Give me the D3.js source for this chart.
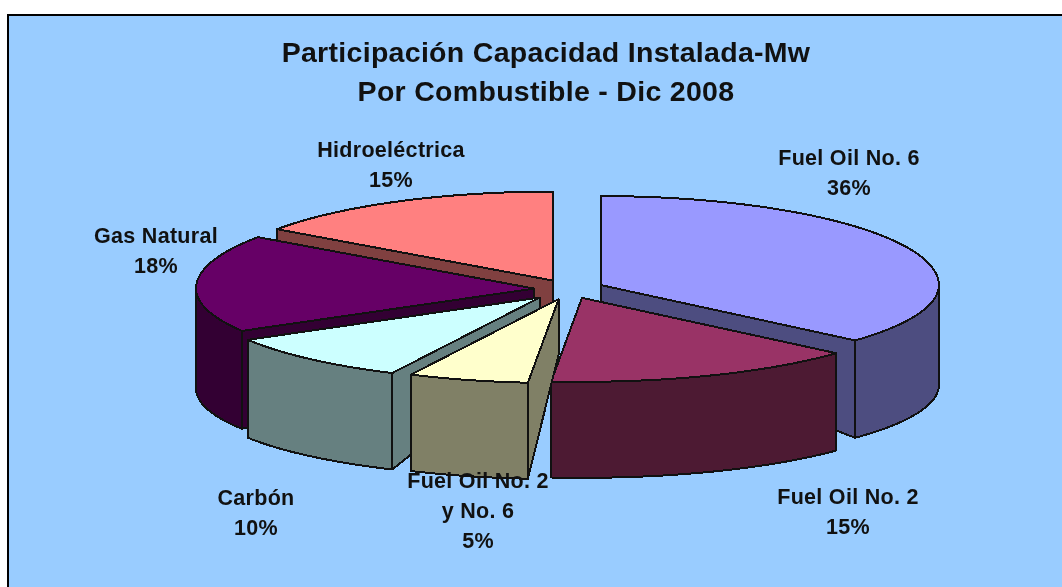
<!DOCTYPE html>
<html>
<head>
<meta charset="utf-8">
<script src="https://cdnjs.cloudflare.com/ajax/libs/d3/7.8.5/d3.min.js"></script>
<style>
    html, body { margin: 0; padding: 0; background: #fff; }
    svg { display: block; filter: blur(0.45px); }
    text { font-family: "Liberation Sans", Arial, sans-serif; font-weight: bold; fill: #111; }
    .slice path { shape-rendering: crispEdges; }
</style>
</head>
<body>
<div id="chart"></div>
<script>
const titleLines = ["Participación Capacidad Instalada-Mw", "Por Combustible - Dic 2008"]
const categories = ["Fuel Oil No. 6", "Fuel Oil No. 2", "Fuel Oil No. 2\ny No. 6", "Carbón", "Gas Natural", "Hidroeléctrica"]
const percentLabels = ["36%", "15%", "5%", "10%", "18%", "15%"]
const shares = [36.45, 15.0, 5.75, 9.4, 18.2, 15.2]
const explosion = [1, 1, 1.1, 1.22, 1, 1]
const topColors = ["#9999ff", "#993366", "#ffffcc", "#ccffff", "#660066", "#ff8080"]
const sideColors = ["#4d4d80", "#4d1a33", "#808066", "#668080", "#330033", "#804040"]

// painter's order, back slices first
const drawOrder = [5, 4, 3, 0, 1, 2]

// label centres, same order as categories
const labelX = [849, 848, 478, 256, 156, 391]
const labelY = [158, 497, 481, 498, 236, 150]

const width = 1062
const height = 587
const TAU = 2 * Math.PI

const cx = 569, cy = 289
const rx = 338
const backRy = 89, frontRy = 84
const bottomRy = 80
const wallDepth = 100
const apexDepth = 55
const explodeX = 35, explodeY = 9.5

const svg = d3.select("#chart").append("svg")
    .attr("width", width)
    .attr("height", height)

svg.append("rect")
    .attr("x", 8)
    .attr("y", 15)
    .attr("width", width + 10)
    .attr("height", height + 10)
    .attr("fill", "#99ccff")
    .attr("stroke", "#000")
    .attr("stroke-width", 2)

const slices = d3.pie().sort(null).value(function (d) { return d })(shares)

const xUnit = d3.scaleLinear().domain([-1, 1]).range([-rx, rx])
const yUnit = d3.scaleLinear().domain([-1, 0, 1]).range([frontRy, 0, -backRy])
const yUnitBottom = d3.scaleLinear().domain([-1, 1]).range([bottomRy, -bottomRy])
const line = d3.line()

function sliceOrigin(s, i) {
    const mid = (s.startAngle + s.endAngle) / 2
    return [cx + explosion[i] * explodeX * Math.sin(mid), cy - explosion[i] * explodeY * Math.cos(mid)]
}

function rimPoint(o, a) {
    return [o[0] + xUnit(Math.sin(a)), o[1] + yUnit(Math.cos(a))]
}

function rimBottomPoint(o, a) {
    return [o[0] + xUnit(Math.sin(a)), o[1] + wallDepth + yUnitBottom(Math.cos(a))]
}

function angleSteps(a0, a1) {
    const n = Math.max(2, Math.ceil((a1 - a0) * 60))
    return d3.range(n + 1).map(function (i) { return a0 + (a1 - a0) * i / n })
}

function drawPoly(g, points, fill) {
    g.append("path")
        .attr("d", line(points) + "Z")
        .attr("fill", fill)
        .attr("stroke", "#111")
        .attr("stroke-width", 2)
        .attr("stroke-linejoin", "round")
}

function cutFace(g, o, a, fill) {
    drawPoly(g, [o, rimPoint(o, a), rimBottomPoint(o, a), [o[0], o[1] + apexDepth]], fill)
}

drawOrder.forEach(function (i) {
    const s = slices[i]
    const o = sliceOrigin(s, i)
    const g = svg.append("g").attr("class", "slice")

    // a cut face shows when its normal turns towards the viewer
    if (Math.sin(s.startAngle) < 0) cutFace(g, o, s.startAngle, sideColors[i])
    if (Math.sin(s.endAngle) > 0) cutFace(g, o, s.endAngle, sideColors[i])

    // outer wall, only the part that faces front
    const w0 = Math.max(s.startAngle, TAU / 4)
    const w1 = Math.min(s.endAngle, 3 * TAU / 4)
    if (w1 > w0) {
        const steps = angleSteps(w0, w1)
        const pts = steps.map(function (a) { return rimPoint(o, a) })
            .concat(steps.slice().reverse().map(function (a) { return rimBottomPoint(o, a) }))
        drawPoly(g, pts, sideColors[i])
    }

    const top = [o].concat(angleSteps(s.startAngle, s.endAngle).map(function (a) { return rimPoint(o, a) }))
    drawPoly(g, top, topColors[i])
})

const title = svg.append("g")
title.selectAll("text")
    .data(titleLines)
    .enter()
    .append("text")
    .attr("x", 546)
    .attr("y", function (d, i) { return 62 + i * 39 })
    .attr("text-anchor", "middle")
    .style("font-size", "28.5px")
    .style("letter-spacing", "0.3px")
    .text(function (d) { return d })

categories.forEach(function (name, i) {
    const rows = name.split("\n").concat(percentLabels[i])
    svg.append("g").selectAll("text")
        .data(rows)
        .enter()
        .append("text")
        .attr("x", labelX[i])
        .attr("y", function (d, j) { return labelY[i] + 7 + j * 30 })
        .attr("text-anchor", "middle")
        .style("font-size", "21.5px")
        .style("letter-spacing", "0.3px")
        .text(function (d) { return d })
})
</script>
</body>
</html>
